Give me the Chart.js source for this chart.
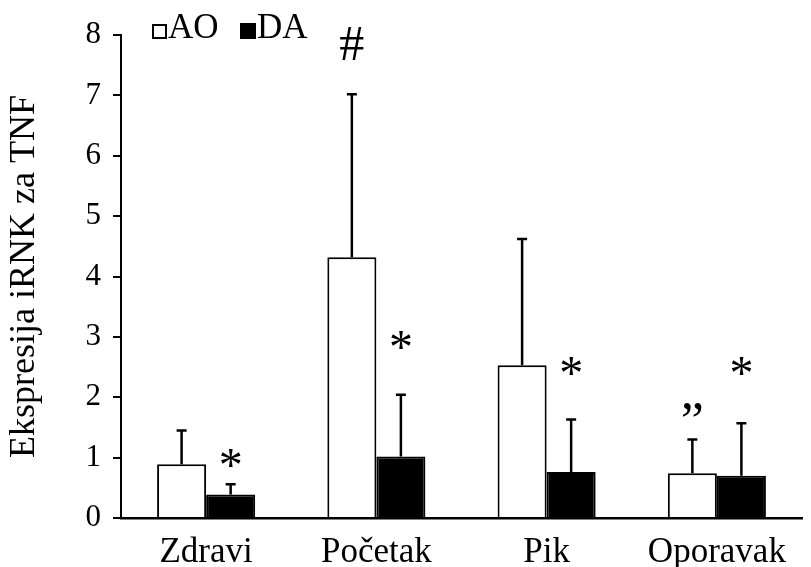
<!DOCTYPE html>
<html>
<head>
<meta charset="utf-8">
<script src="https://cdn.jsdelivr.net/npm/chart.js@4/dist/chart.umd.min.js"></script>
<style>
  html, body { margin: 0; padding: 0; background: #fff; }
  #wrap { width: 811px; height: 567px; }
</style>
</head>
<body>
<div id="wrap"><canvas id="grafik"></canvas></div>
<script>
// kategorije i serije
const kategorije = ["Zdravi", "Početak", "Pik", "Oporavak"];
const nizAO = [0.89, 4.32, 2.53, 0.74];
const nizDA = [0.39, 1.02, 0.76, 0.70];
const sdAO = [0.56, 2.70, 2.09, 0.56];
const sdDA = [0.17, 1.02, 0.87, 0.87];
const yTicks = [0, 1, 2, 3, 4, 5, 6, 7, 8];

// oznake znacajnosti (simbol, kategorija, serija, vrijednost)
const oznake = ["*", "*", "*", "*", "#", "\u201D"];
const oznakeKat = [0, 1, 2, 3, 1, 3];
const oznakeSer = [1, 1, 1, 1, 0, 0];
const oznakeY = [0.99, 2.95, 2.52, 2.52, 7.86, 1.79];

const serif = "'Liberation Serif', 'Times New Roman', serif";

// error bars (samo gornji dio)
const errorBars = {
  id: "errorBars",
  afterDatasetsDraw(c) {
    const ctx = c.ctx, y = c.scales.y;
    const sds = [sdAO, sdDA];
    ctx.save();
    ctx.strokeStyle = "#000";
    ctx.lineWidth = 2.5;
    c.data.datasets.forEach((ds, i) => {
      c.getDatasetMeta(i).data.forEach((bar, j) => {
        const top = y.getPixelForValue(ds.data[j]);
        const end = y.getPixelForValue(ds.data[j] + sds[i][j]);
        ctx.beginPath();
        ctx.moveTo(bar.x, top);
        ctx.lineTo(bar.x, end);
        ctx.moveTo(bar.x - 5, end);
        ctx.lineTo(bar.x + 5, end);
        ctx.stroke();
      });
    });
    ctx.restore();
  }
};

// zvjezdice i ostali simboli
const simboli = {
  id: "simboli",
  afterDraw(c) {
    const ctx = c.ctx, y = c.scales.y;
    const vel = { "*": 48, "#": 50, "\u201D": 52 };
    ctx.save();
    ctx.fillStyle = "#000";
    ctx.textAlign = "center";
    ctx.textBaseline = "alphabetic";
    oznake.forEach((t, k) => {
      ctx.font = vel[t] + "px " + serif;
      const bar = c.getDatasetMeta(oznakeSer[k]).data[oznakeKat[k]];
      const m = ctx.measureText(t);
      const cy = y.getPixelForValue(oznakeY[k]);
      ctx.fillText(t, bar.x, cy + (m.actualBoundingBoxAscent - m.actualBoundingBoxDescent) / 2);
    });
    ctx.restore();
  }
};

// legenda u gornjem lijevom uglu
const legenda = {
  id: "legenda",
  afterDraw(c) {
    const ctx = c.ctx;
    const a = c.data.datasets;
    ctx.save();
    ctx.font = "35px " + serif;
    ctx.textBaseline = "alphabetic";
    ctx.fillStyle = "#000";
    ctx.lineWidth = 2;
    ctx.strokeStyle = "#000";
    ctx.strokeRect(153, 25, 13, 13);
    ctx.fillText(a[0].label, 168, 38);
    ctx.fillRect(240, 23, 16, 16);
    ctx.fillText(a[1].label, 257, 38);
    ctx.restore();
  }
};

new Chart(grafik, {
  type: "bar",
  data: {
    labels: kategorije,
    datasets: [
      { label: "AO", data: nizAO, backgroundColor: "#fff", borderColor: "#000", borderWidth: 2 },
      { label: "DA", data: nizDA, backgroundColor: "#000", borderColor: "#000", borderWidth: 2 }
    ]
  },
  options: {
    responsive: true, maintainAspectRatio: false, animation: false,
    layout: { padding: { top: 35, right: 9, left: 0, bottom: 0 } },
    datasets: { bar: { barPercentage: 1, categoryPercentage: 0.576 } },
    plugins: { legend: { display: false }, tooltip: { enabled: false } },
    scales: {
      x: {
        grid: { display: false },
        border: { color: "#000", width: 2.5 },
        ticks: { color: "#000", font: { family: serif, size: 35 }, padding: 6, maxRotation: 0 },
        afterFit: s => { s.height = 49; }
      },
      y: {
        min: 0, max: 8,
        afterBuildTicks: s => { s.ticks = yTicks.map(v => ({ value: v })); },
        grid: { drawOnChartArea: false, color: "#000", lineWidth: 2, tickLength: 8 },
        border: { color: "#000", width: 2 },
        ticks: { color: "#000", font: { family: serif, size: 31 }, padding: 12 },
        title: { display: true, text: "Ekspresija iRNK za TNF", color: "#000", font: { family: serif, size: 36 }, padding: { top: 3, bottom: 0 } },
        afterFit: s => { s.width = 121; }
      }
    }
  },
  plugins: [errorBars, simboli, legenda]
});
</script>
</body>
</html>
